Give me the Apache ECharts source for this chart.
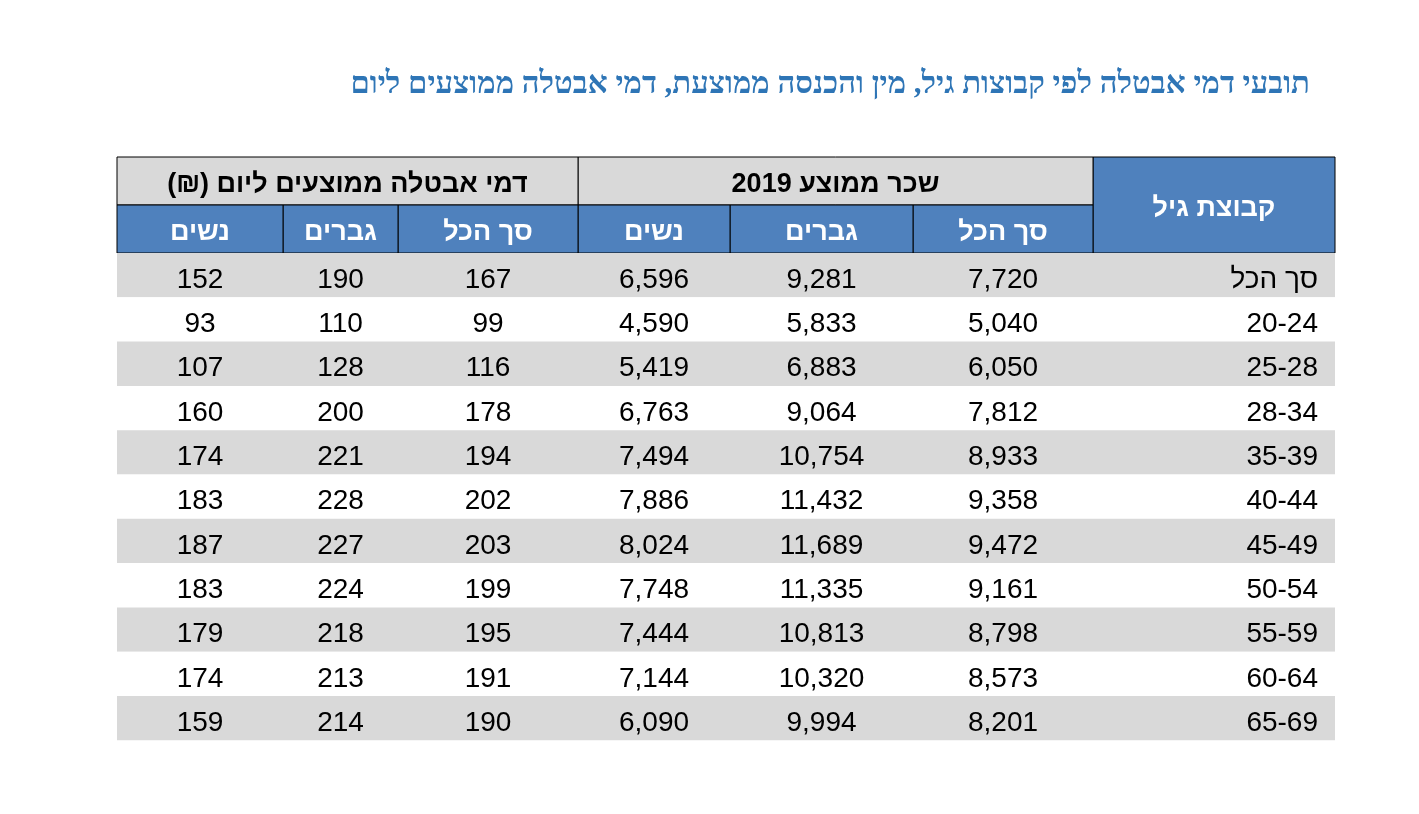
<!DOCTYPE html>
<html lang="he">
<head>
<meta charset="UTF-8" />
<title>דמי אבטלה</title>
<script src="https://cdn.jsdelivr.net/npm/echarts@6/dist/echarts.min.js"></script>
<style>
  html, body { margin: 0; padding: 0; background: #fff; }
  #chart { width: 1419px; height: 814px; }
</style>
</head>
<body>
<div id="chart"></div>
<script>
// data
var ages = ['סך הכל', '20-24', '25-28', '28-34', '35-39', '40-44', '45-49', '50-54', '55-59', '60-64', '65-69'];
var wageTotal = ['7,720', '5,040', '6,050', '7,812', '8,933', '9,358', '9,472', '9,161', '8,798', '8,573', '8,201'];
var wageMen = ['9,281', '5,833', '6,883', '9,064', '10,754', '11,432', '11,689', '11,335', '10,813', '10,320', '9,994'];
var wageWomen = ['6,596', '4,590', '5,419', '6,763', '7,494', '7,886', '8,024', '7,748', '7,444', '7,144', '6,090'];
var benefitTotal = [167, 99, 116, 178, 194, 202, 203, 199, 195, 191, 190];
var benefitMen = [190, 110, 128, 200, 221, 228, 227, 224, 218, 213, 214];
var benefitWomen = [152, 93, 107, 160, 174, 183, 187, 183, 179, 174, 159];
var groupHeaders = ['שכר ממוצע 2019', 'דמי אבטלה ממוצעים ליום (₪)'];
var subHeaders = ['סך הכל', 'גברים', 'נשים'];
var ageHeader = 'קבוצת גיל';
var title = 'תובעי דמי אבטלה לפי קבוצות גיל, מין והכנסה ממוצעת, דמי אבטלה ממוצעים ליום';

// layout (column edges right-to-left, row edges top-to-bottom)
var colEdges = [1335, 1093, 913, 730, 578, 398, 283, 117];
var headTop = 157, headMid = 205, bodyTop = 253, rowH = 44.3;

var RLM = '\u200F';
function rtl(s) { return RLM + s + RLM; }

var BLUE = '#4f81bd', GRAY = '#d9d9d9';
var cells = [];
function cell(c0, c1, y0, y1, text, opt) {
  cells.push([colEdges[c1], y0, colEdges[c0], y1, text, opt]);
}
// header
cell(0, 1, headTop, bodyTop, rtl(ageHeader), {fill: BLUE, color: '#fff', bold: true, border: true});
cell(1, 4, headTop, headMid, rtl(groupHeaders[0]), {fill: GRAY, color: '#000', bold: true, border: true});
cell(4, 7, headTop, headMid, rtl(groupHeaders[1]), {fill: GRAY, color: '#000', bold: true, border: true});
for (var i = 0; i < 6; i++) {
  cell(i + 1, i + 2, headMid, bodyTop, rtl(subHeaders[i % 3]), {fill: BLUE, color: '#fff', bold: true, border: true});
}
// body
ages.forEach(function (a, r) {
  var y0 = bodyTop + r * rowH, y1 = y0 + rowH;
  var fill = r % 2 === 0 ? GRAY : '#fff';
  cell(0, 7, y0, y1, '', {fill: fill});
  cell(0, 1, y0, y1, a, {align: 'right'});
  var vals = [wageTotal[r], wageMen[r], wageWomen[r], benefitTotal[r], benefitMen[r], benefitWomen[r]];
  vals.forEach(function (v, k) { cell(k + 1, k + 2, y0, y1, String(v), {}); });
});

var chart = echarts.init(document.getElementById('chart'));
chart.setOption({
  animation: false,
  title: {
    text: rtl(title), right: 104, top: 64,
    textStyle: {color: '#2e75b6', fontSize: 31, fontWeight: 'bold', fontFamily: '"Liberation Serif", "DejaVu Serif", serif'}
  },
  grid: {left: 0, right: 0, top: 0, bottom: 0},
  xAxis: {type: 'value', min: 0, max: 1419, show: false},
  yAxis: {type: 'value', min: 0, max: 814, inverse: true, show: false},
  series: [{
    type: 'custom',
    data: cells,
    encode: {x: [0, 2], y: [1, 3]},
    renderItem: function (params, api) {
      var p0 = api.coord([api.value(0), api.value(1)]);
      var p1 = api.coord([api.value(2), api.value(3)]);
      var d = cells[params.dataIndex];
      var o = d[5];
      var w = p1[0] - p0[0], h = p1[1] - p0[1];
      var children = [];
      if (o.fill || o.border) {
        children.push({
          type: 'rect',
          shape: {x: p0[0], y: p0[1], width: w, height: h},
          style: {fill: o.fill || 'transparent', stroke: o.border ? '#000' : null, lineWidth: 1}
        });
      }
      if (d[4]) {
        var right = o.align === 'right';
        children.push({
          type: 'text',
          style: {
            text: d[4],
            x: right ? p1[0] - 17 : p0[0] + w / 2,
            y: p0[1] + h / 2 + (o.bold ? 4 : 5),
            align: right ? 'right' : 'center',
            verticalAlign: 'middle',
            fill: o.color || '#000',
            font: (o.bold ? 'bold 27px' : '28px') + ' "Liberation Sans", Arial, sans-serif'
          }
        });
      }
      return {type: 'group', children: children};
    }
  }]
});
</script>
</body>
</html>
